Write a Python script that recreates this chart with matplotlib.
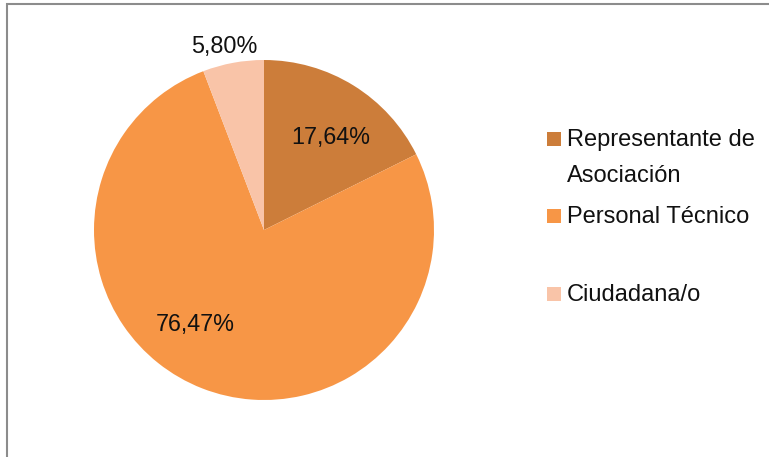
import matplotlib
matplotlib.use("Agg")
import matplotlib.pyplot as plt
from matplotlib.patches import Rectangle

# data
categories = ["Representante de\nAsociación", "Personal Técnico", "Ciudadana/o"]
values = [17.64, 76.47, 5.80]
colors = ["#CC7D3A", "#F79646", "#F9C4A8"]

plt.rcParams['font.family'] = ['Liberation Sans', 'DejaVu Sans']

W, H = 769, 457
fig = plt.figure(figsize=(W / 100, H / 100), dpi=100)

# gray outer frame (chart area border, clipped at right and bottom)
fig.patches.append(Rectangle((7 / W, -0.05), 1.2, 1 - 4 / H + 0.05,
                             transform=fig.transFigure, fill=False,
                             edgecolor="#8C8C8C", linewidth=1.5))

cx, cy, r = 264, 230, 170
ax = fig.add_axes([(cx - r) / W, (H - cy - r) / H, 2 * r / W, 2 * r / H])
wedges, texts, autotexts = ax.pie(values, colors=colors, startangle=90,
                                  counterclock=False, radius=1,
                                  autopct=lambda p: "", pctdistance=0.67,
                                  wedgeprops=dict(linewidth=0))
ax.set_xlim(-1, 1)
ax.set_ylim(-1, 1)
ax.set_aspect("equal")
ax.axis("off")

# data label placement (best fit, in pie radius units)
label_pos = [(0.394, 0.545), (-0.406, -0.555), (-0.235, 1.08)]
for t, v, pos in zip(autotexts, values, label_pos):
    t.set_text(f"{v:.2f}%".replace(".", ","))
    t.set_position(pos)
    t.set_fontsize(16.8)
    t.set_color("#111111")
    t.set_ha("center")
    t.set_va("center")

# legend drawn by hand to match wrapped entries
leg_y = [139, 216, 294]
for lab, col, y in zip(categories, colors, leg_y):
    fig.patches.append(Rectangle((547 / W, 1 - (y + 7) / H), 14 / W, 14 / H,
                                 transform=fig.transFigure, facecolor=col,
                                 edgecolor="none"))
    lines = lab.split("\n")
    for i, line in enumerate(lines):
        fig.text(567 / W, 1 - (y + 1 + i * 36) / H, line, fontsize=17,
                 color="#111111", ha="left", va="center")

fig.savefig("out.png", dpi=100)
